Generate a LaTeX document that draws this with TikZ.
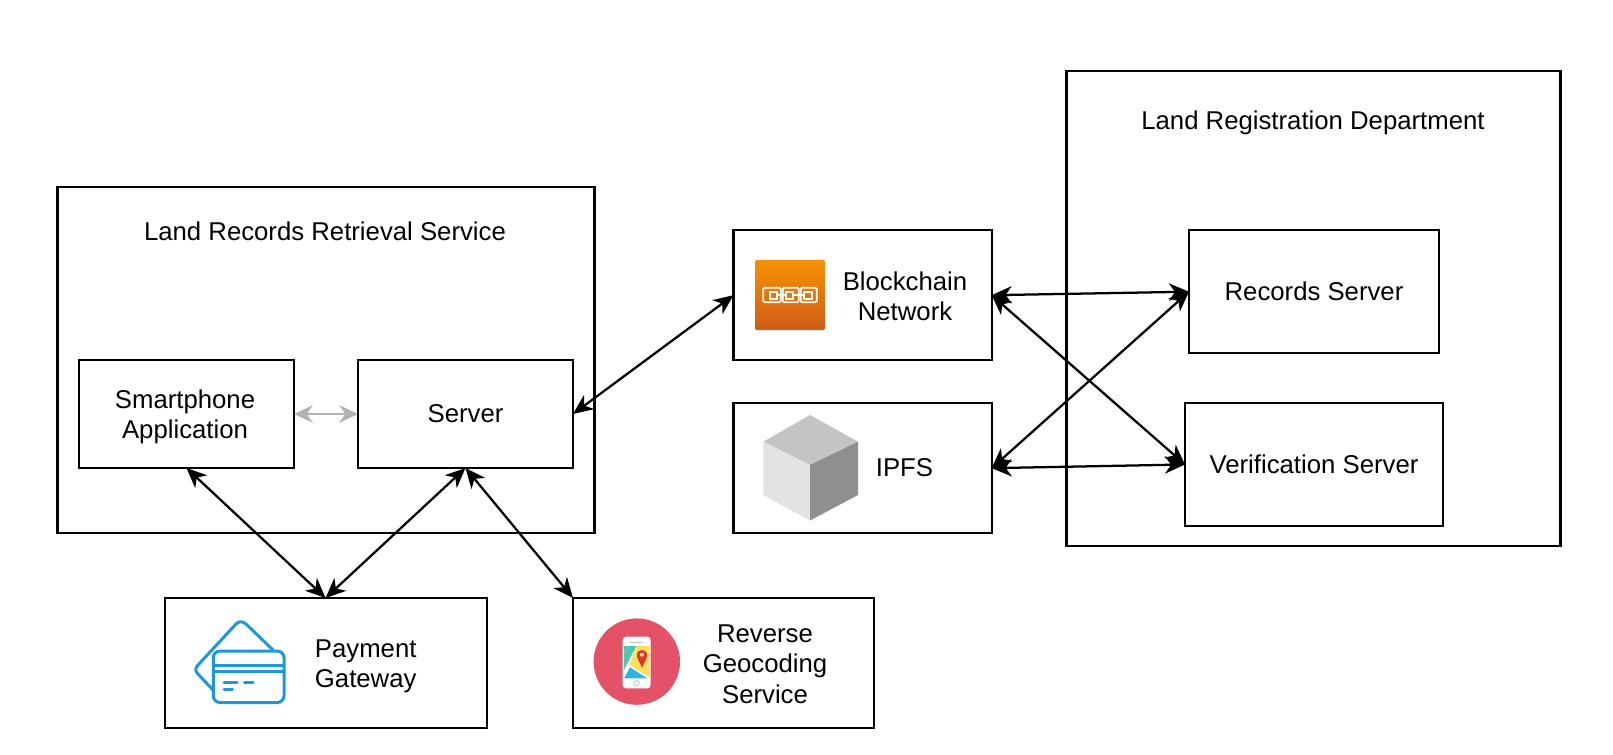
\documentclass[tikz,border=0pt]{standalone}
\usepackage{fontspec}
\setmainfont{Liberation Sans}
\usetikzlibrary{arrows.meta}
\definecolor{cardblue}{HTML}{1E96DC}
\definecolor{pinrose}{HTML}{E35266}
\definecolor{chaintop}{HTML}{F59205}
\definecolor{chainbot}{HTML}{CF5C18}
\definecolor{mapyellow}{HTML}{FBE15A}
\definecolor{mapteal}{HTML}{4FC9AE}
\definecolor{mapblue}{HTML}{2DB5DC}
\definecolor{mapred}{HTML}{E0352B}
\newcommand{\pxbox}[7][boxstyle]{%
  \pgfmathsetmacro{\cxx}{(#3+#5)/2}\pgfmathsetmacro{\cyy}{(#4+#6)/2}%
  \pgfmathsetmacro{\wxx}{(#5-#3)*0.75}\pgfmathsetmacro{\hyy}{(#6-#4)*0.75}%
  \node[#1,minimum width=\wxx pt,minimum height=\hyy pt] (#2) at (\cxx,\cyy) {#7};}
\tikzset{
  boxstyle/.style={draw=black,line width=1.6pt,inner sep=0pt,outer sep=0pt,align=center},
  outerbox/.style={boxstyle,line width=2.1pt},
  lbl/.style={inner sep=0pt,align=center},
  link/.style={line width=1.7pt,{Stealth[length=15pt,width=13pt,inset=4.5pt]}-{Stealth[length=15pt,width=13pt,inset=4.5pt]}},
  softlink/.style={line width=1.6pt,draw=black!30,{Stealth[length=14pt,width=13pt,inset=4.5pt,black!30]}-{Stealth[length=14pt,width=13pt,inset=4.5pt,black!30]}}
}
\begin{document}
\begin{tikzpicture}[x=0.75pt,y=-0.75pt,every node/.append style={font=\fontsize{19.3}{22.7}\selectfont}]
\useasboundingbox (0,0) rectangle (1613,754);
\fill[white] (0,0) rectangle (1613,754);
% containers
\pxbox[outerbox]{retrieval}{57.6}{187}{594.6}{533}{}
\pxbox[outerbox]{landreg}{1066.8}{71}{1560.5}{546}{}
\node[lbl] (retrievaltitle) at (325,231.5) {Land Records Retrieval Service};
\node[lbl] (landregtitle) at (1313,123) {Land Registration Department};
% boxes
\pxbox{phone}{79}{360}{294}{468}{}
\pxbox{server}{358}{360}{573}{468}{Server}
\pxbox{gateway}{164.6}{598}{486.6}{728}{}
\pxbox{reverse}{573}{598}{874.4}{728}{}
\pxbox{chainbox}{733.5}{230.4}{991.7}{360}{}
\pxbox{ipfsbox}{733.5}{403.3}{991.7}{533}{}
\pxbox{records}{1189}{230.4}{1439}{353}{Records Server}
\pxbox{verify}{1185}{403.3}{1443}{525.7}{Verification Server}
\node[lbl] (phonetext) at (185,417) {Smartphone\\Application};
\node[lbl] (gatewaytext) at (365.7,666) {Payment\\Gateway};
\node[lbl] (reversetext) at (765,664) {Reverse\\Geocoding\\Service};
\node[lbl] (chaintext) at (905,296) {Blockchain\\Network};
\node[lbl] (ipfstext) at (904.5,468) {IPFS};
% connectors
\draw[softlink] (phone.east) -- (server.west);
\draw[link] (server.east) -- (chainbox.west);
\draw[link] (chainbox.east) -- (records.west);
\draw[link] (chainbox.east) -- (verify.west);
\draw[link] (ipfsbox.east) -- (records.west);
\draw[link] (ipfsbox.east) -- (verify.west);
\draw[link] (phone.south) -- (gateway.north);
\draw[link] (server.south) -- (gateway.north);
\draw[link] (server.south) -- (reverse.north west);
% card icon
\begin{scope}[line width=2.25pt,draw=cardblue,line join=round,line cap=round]
\draw[cardblue] (273,650) -- (246,624) .. controls (242,621) and (239,621) .. (236,624)
  -- (198,665) .. controls (195,668) and (195,671) .. (198,674) -- (213,690);
\draw[cardblue,rounded corners=5pt] (213.3,651) rectangle (284,702.5);
\draw[cardblue,line width=1.9pt] (213.3,665.7) -- (284,665.7) (213.3,671.7) -- (284,671.7);
\draw[cardblue] (224,682.3) -- (237,682.3) (244.5,682.3) -- (253,682.3) (224,689) -- (232.5,689);
\end{scope}
% map icon
\fill[pinrose] (636.8,661.6) circle[radius=43.2];
\begin{scope}[shift={(560,590)},scale=1/3]
\fill[white,rounded corners=2.5pt] (188,140) rectangle (272,295);
\fill[black!25] (215,156) rectangle (250,159);
\fill[black!60] (213,157) circle[radius=1.5];
\fill[mapyellow] (230,168) -- (268,168) -- (268,262) -- (208,225) -- cycle;
\fill[mapteal] (192,168) -- (229,168) -- (192,240) -- cycle;
\fill[mapblue] (192,265) -- (262,265) -- (210,232) -- cycle;
\fill[mapred] (246,233) .. controls (240,218) and (231,208) .. (231,195)
  .. controls (231,175) and (261,175) .. (261,195) .. controls (261,208) and (252,218) .. (246,233) -- cycle;
\fill[white!80!red] (246,194) circle[radius=6];
\draw[black!25,line width=0.6pt] (230,280) circle[radius=8];
\end{scope}
% chain icon
\shade[top color=chaintop,bottom color=chainbot,rounded corners=1pt] (755,260) rectangle (825,330);
\begin{scope}[shift={(720,240)},scale=1/3,draw=white,line width=1.3pt]
\draw[rounded corners=1pt] (130,143) rectangle (182,187);
\draw[rounded corners=1pt] (188,143) rectangle (236,187);
\draw[rounded corners=1pt] (242,143) rectangle (290,187);
\draw (150,155) rectangle (172,177);
\draw (198,155) rectangle (220,177);
\draw (253,155) rectangle (275,177);
\draw (172,165) -- (198,165) (220,165) -- (253,165);
\end{scope}
% cube icon
\fill[black!23] (810,415) -- (858,441.7) -- (810,465) -- (763.3,441.7) -- cycle;
\fill[black!11] (763.3,441.7) -- (810,465) -- (810,520.5) -- (763.3,495) -- cycle;
\fill[black!44] (858,441.7) -- (810,465) -- (810,520.5) -- (858,495) -- cycle;
\end{tikzpicture}
\end{document}
